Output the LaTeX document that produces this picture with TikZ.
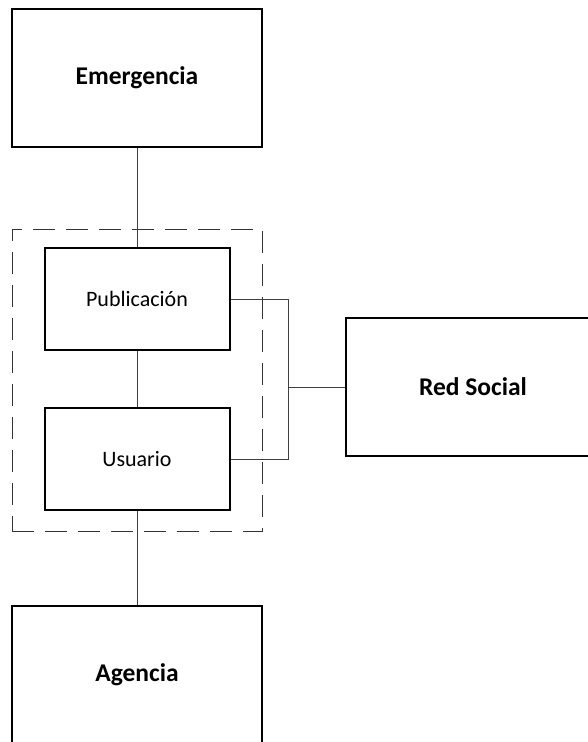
\documentclass[tikz,border=0pt]{standalone}
\usepackage{fontspec}
\setmainfont{Carlito}

\tikzset{
  bigbox/.style={draw=black, line width=2pt, minimum width=250pt, minimum height=138pt,
    font=\fontsize{25.5}{30}\selectfont\bfseries},
  smallbox/.style={draw=black, line width=2pt, minimum width=185pt, minimum height=102pt,
    font=\fontsize{22}{26}\selectfont},
  grupo/.style={draw=black!80, line width=1pt, dash pattern=on 22pt off 11pt,
    minimum width=250pt, minimum height=302pt},
  link/.style={draw=black!75, line width=1pt}
}

\begin{document}
\begin{tikzpicture}[x=1pt,y=1pt]
\useasboundingbox (0,0) rectangle (588,-742);

\node[grupo] (grupo) at (137,-380) {};

\node[bigbox] (emergencia) at (137,-78) {Emergencia};
\node[smallbox] (publicacion) at (137,-299) {Publicación};
\node[smallbox] (usuario) at (137,-459) {Usuario};
\node[bigbox] (agencia) at (137,-675) {Agencia};
\node[bigbox, minimum width=254pt] (redsocial) at (473,-387) {Red Social};

\coordinate (bus) at (288,-387);

\draw[link] (emergencia.south) -- (publicacion.north);
\draw[link] (publicacion.south) -- (usuario.north);
\draw[link] (usuario.south) -- (agencia.north);
\draw[link] (publicacion.east) -| (bus);
\draw[link] (usuario.east) -| (bus);
\draw[link] (bus) -- (redsocial.west);
\end{tikzpicture}
\end{document}
